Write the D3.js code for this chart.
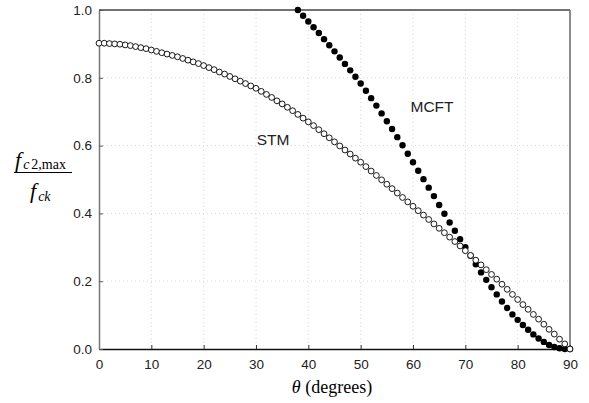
<!DOCTYPE html>
<html>
<head>
<meta charset="utf-8">
<script src="https://cdn.jsdelivr.net/npm/d3@7"></script>
<style>
  body { margin: 0; background: #fff; }
  .tick text { font-family: "Liberation Sans", Arial, sans-serif; font-size: 13.5px; fill: #222; }
  .lbl { font-family: "Liberation Sans", Arial, sans-serif; font-size: 15.5px; fill: #222; }
  .math { font-family: "Liberation Serif", "Times New Roman", serif; fill: #000; }
</style>
</head>
<body>
<script>
// angle values (degrees)
var stmTheta = d3.range(0, 91);
var stmValues = [0.902, 0.902, 0.901, 0.900, 0.899, 0.897, 0.895, 0.892, 0.889, 0.886,
  0.882, 0.878, 0.874, 0.870, 0.866, 0.862, 0.857, 0.852, 0.847, 0.842,
  0.836, 0.830, 0.824, 0.817, 0.811, 0.804, 0.797, 0.790, 0.783, 0.776,
  0.769, 0.760, 0.751, 0.742, 0.732, 0.723, 0.713, 0.703, 0.692, 0.681,
  0.670, 0.659, 0.647, 0.635, 0.623, 0.611, 0.599, 0.587, 0.575, 0.563,
  0.551, 0.538, 0.525, 0.512, 0.499, 0.486, 0.473, 0.460, 0.447, 0.434,
  0.421, 0.408, 0.395, 0.382, 0.369, 0.356, 0.343, 0.330, 0.317, 0.304,
  0.290, 0.276, 0.262, 0.248, 0.234, 0.220, 0.206, 0.191, 0.176, 0.161,
  0.146, 0.131, 0.117, 0.102, 0.088, 0.073, 0.058, 0.044, 0.029, 0.015, 0.000];

var mcftTheta = d3.range(38, 91);
var mcftValues = [1.000, 0.983, 0.966, 0.949, 0.932, 0.914, 0.896, 0.878, 0.860, 0.841,
  0.822, 0.803, 0.783, 0.762, 0.740, 0.718, 0.695, 0.672, 0.649, 0.625,
  0.601, 0.576, 0.551, 0.526, 0.501, 0.476, 0.451, 0.425, 0.399, 0.373,
  0.349, 0.324, 0.300, 0.275, 0.250, 0.226, 0.204, 0.182, 0.161, 0.140,
  0.121, 0.102, 0.086, 0.071, 0.057, 0.043, 0.031, 0.021, 0.012, 0.006,
  0.002, 0.000, 0.000];

var xTicks = [0, 10, 20, 30, 40, 50, 60, 70, 80, 90];
var yTicks = [0.0, 0.2, 0.4, 0.6, 0.8, 1.0];

// canvas size
var margin = { top: 10, right: 19, bottom: 54, left: 99 },
    width = 589 - margin.left - margin.right,
    height = 403 - margin.top - margin.bottom;

var x = d3.scaleLinear().domain([0, 90]).range([0, width]);
var y = d3.scaleLinear().domain([0, 1]).range([height, 0]);

var root = d3.select("body").append("svg")
    .attr("width", 589)
    .attr("height", 403);

var svg = root.append("g")
    .attr("transform", "translate(" + margin.left + "," + margin.top + ")");

// dotted grid
svg.append("g").selectAll("line").data(xTicks.slice(1, -1)).enter().append("line")
    .attr("x1", function(d) { return x(d); }).attr("x2", function(d) { return x(d); })
    .attr("y1", 0).attr("y2", height)
    .attr("stroke", "#d8d8d8").attr("stroke-dasharray", "1,3");
svg.append("g").selectAll("line").data(yTicks.slice(1, -1)).enter().append("line")
    .attr("y1", function(d) { return y(d); }).attr("y2", function(d) { return y(d); })
    .attr("x1", 0).attr("x2", width)
    .attr("stroke", "#d8d8d8").attr("stroke-dasharray", "1,3");

// frame top / right
svg.append("line").attr("x1", 0).attr("x2", width).attr("y1", 0).attr("y2", 0)
    .attr("stroke", "#444").attr("stroke-width", 1.5);
svg.append("line").attr("x1", width).attr("x2", width).attr("y1", 0).attr("y2", height)
    .attr("stroke", "#666").attr("stroke-width", 1.5);

// x axis
var xAxis = svg.append("g")
    .attr("transform", "translate(0," + height + ")")
    .call(d3.axisBottom(x).tickValues(xTicks).tickSizeInner(-4).tickSizeOuter(0).tickPadding(10).tickFormat(d3.format("d")));
xAxis.select(".domain").attr("stroke", "#111").attr("stroke-width", 1.5);
xAxis.selectAll(".tick line").attr("stroke", "#333");

// y axis
var yAxis = svg.append("g")
    .call(d3.axisLeft(y).tickValues(yTicks).tickSizeInner(-4).tickSizeOuter(0).tickPadding(7).tickFormat(d3.format(".1f")));
yAxis.select(".domain").attr("stroke", "#777").attr("stroke-width", 1.5);
yAxis.selectAll(".tick line").attr("stroke", "#555");

// MCFT filled dots
svg.append("g").selectAll("circle")
    .data(mcftTheta.map(function(t, i) { return [t, mcftValues[i]]; }))
    .enter().append("circle")
    .attr("cx", function(d) { return x(d[0]); })
    .attr("cy", function(d) { return y(d[1]); })
    .attr("r", 3.2)
    .attr("fill", "#000");

// STM open circles
svg.append("g").selectAll("circle")
    .data(stmTheta.map(function(t, i) { return [t, stmValues[i]]; }))
    .enter().append("circle")
    .attr("cx", function(d) { return x(d[0]); })
    .attr("cy", function(d) { return y(d[1]); })
    .attr("r", 2.9)
    .attr("fill", "#fff")
    .attr("stroke", "#000")
    .attr("stroke-width", 0.9);

// series labels
root.append("text").attr("class", "lbl").attr("x", 273).attr("y", 145)
    .attr("text-anchor", "middle").text("STM");
root.append("text").attr("class", "lbl").attr("x", 432).attr("y", 112)
    .attr("text-anchor", "middle").text("MCFT");

// y label as fraction
var num = root.append("text").attr("class", "math").attr("x", 15).attr("y", 167);
num.append("tspan").attr("font-style", "italic").attr("font-size", 22).text("f");
num.append("tspan").attr("font-style", "italic").attr("font-size", 14).attr("dx", 2).attr("dy", 2).text("c");
num.append("tspan").attr("font-size", 14).attr("dx", 2).text("2,max");
root.append("line").attr("x1", 14).attr("x2", 72).attr("y1", 172.5).attr("y2", 172.5)
    .attr("stroke", "#000").attr("stroke-width", 1.2);
var den = root.append("text").attr("class", "math").attr("x", 30).attr("y", 198);
den.append("tspan").attr("font-style", "italic").attr("font-size", 22).text("f");
den.append("tspan").attr("font-style", "italic").attr("font-size", 14).attr("dx", 2).attr("dy", 3).text("ck");

// x label
var xl = root.append("text").attr("class", "math").attr("x", 332).attr("y", 393)
    .attr("text-anchor", "middle").attr("font-size", 18);
xl.append("tspan").attr("font-style", "italic").text("θ");
xl.append("tspan").text(" (degrees)");
</script>
</body>
</html>
